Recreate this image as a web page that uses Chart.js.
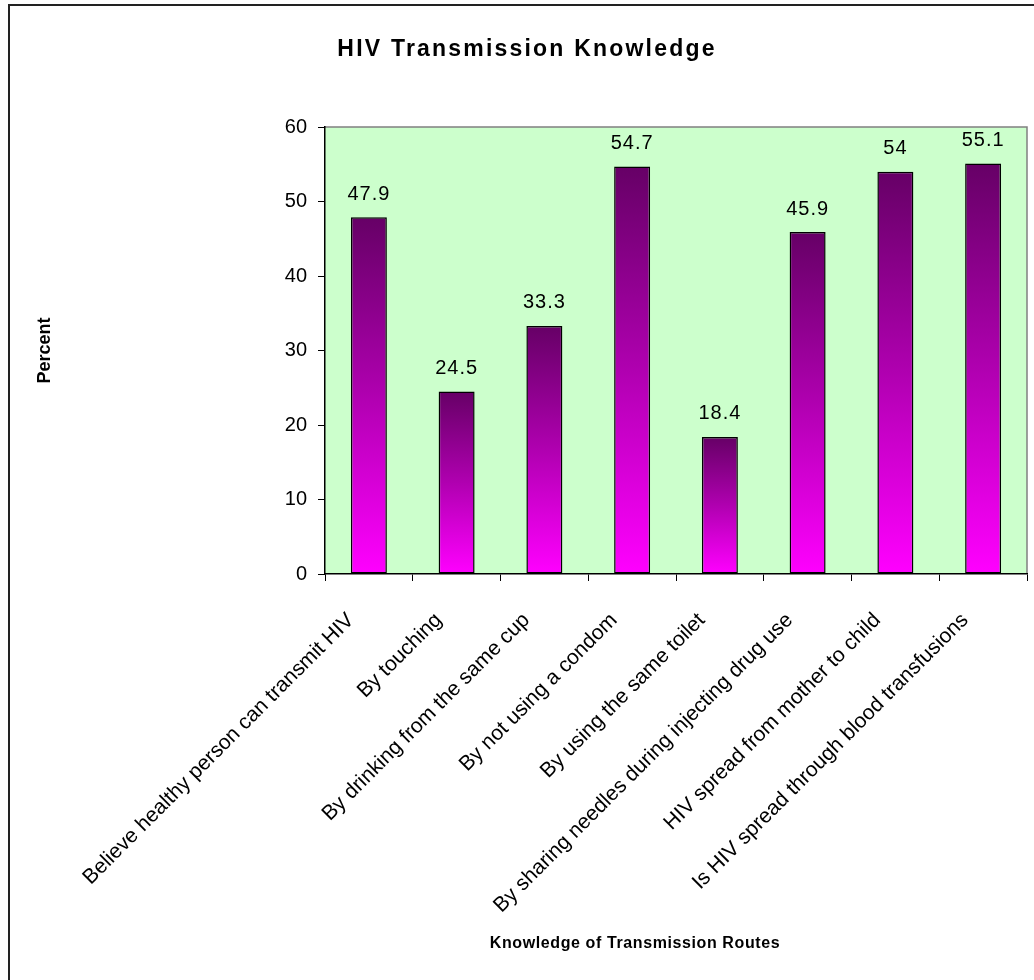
<!DOCTYPE html>
<html>
<head>
<meta charset="utf-8">
<script src="https://cdn.jsdelivr.net/npm/chart.js@4.4.1/dist/chart.umd.min.js"></script>
<style>
  html, body { margin: 0; padding: 0; background: #fff; }
  #wrap { width: 1034px; height: 980px; position: relative; }
</style>
</head>
<body>
<div id="wrap"><canvas id="hivChart"></canvas></div>
<script>
var categories = [
    'Believe healthy person can transmit HIV',
    'By touching',
    'By drinking from the same cup',
    'By not using a condom',
    'By using the same toilet',
    'By sharing needles during injecting drug use',
    'HIV spread from mother to child',
    'Is HIV spread through blood transfusions'
];
var percents = [47.9, 24.5, 33.3, 54.7, 18.4, 45.9, 54, 55.1];
var yTicks = [0, 10, 20, 30, 40, 50, 60];
var chartTitle = 'HIV Transmission Knowledge';
var xTitle = 'Knowledge of Transmission Routes';
var yTitle = 'Percent';

var FONT = '"Liberation Sans", Arial, sans-serif';

document.addEventListener('DOMContentLoaded', function () {
    // fondo verde, borde exterior y titulos
    var plotBg = {
        id: 'plotBg',
        beforeDraw: function (chart) {
            var c = chart.ctx, a = chart.chartArea;
            c.save();
            c.fillStyle = '#fff';
            c.fillRect(0, 0, chart.width, chart.height);
            c.strokeStyle = '#222';
            c.lineWidth = 2;
            c.strokeRect(9, 5, 1200, 1200);
            c.fillStyle = '#CCFFCC';
            c.fillRect(a.left, a.top, a.right - a.left, a.bottom - a.top);
            c.strokeStyle = '#808080';
            c.lineWidth = 1.5;
            c.beginPath();
            c.moveTo(a.left, a.top);
            c.lineTo(a.right, a.top);
            c.lineTo(a.right, a.bottom);
            c.stroke();
            c.restore();
        },
        afterDraw: function (chart) {
            var c = chart.ctx;
            c.save();
            c.fillStyle = '#000';
            c.textAlign = 'center';
            c.textBaseline = 'middle';
            c.font = 'bold 23px ' + FONT;
            c.letterSpacing = '2.2px';
            c.fillText(chartTitle, 527, 50);
            c.font = 'bold 16px ' + FONT;
            c.letterSpacing = '0.6px';
            c.fillText(xTitle, 635, 944);
            c.restore();
            c.letterSpacing = '0px';
        }
    };

    // etiquetas de valor encima de cada barra
    var valueLabels = {
        id: 'valueLabels',
        afterDatasetsDraw: function (chart) {
            var c = chart.ctx;
            var meta = chart.getDatasetMeta(0);
            c.save();
            c.font = '20px ' + FONT;
            c.letterSpacing = '1px';
            c.fillStyle = '#000';
            c.textAlign = 'center';
            c.textBaseline = 'bottom';
            meta.data.forEach(function (bar, i) {
                c.fillText(String(percents[i]), bar.x, bar.y - 13);
            });
            c.restore();
            c.letterSpacing = '0px';
        }
    };

    var ctx = document.getElementById('hivChart').getContext('2d');
    var chart = new Chart(ctx, {
        type: 'bar',
        data: {
            labels: categories,
            datasets: [{
                data: percents,
                backgroundColor: function (context) {
                    var ch = context.chart;
                    if (!ch.chartArea) return '#B000B0';
                    var y = ch.scales.y;
                    var top = y.getPixelForValue(percents[context.dataIndex]);
                    var base = y.getPixelForValue(0);
                    var g = ch.ctx.createLinearGradient(0, top, 0, base);
                    g.addColorStop(0, '#660066');
                    g.addColorStop(0.5, '#B000B0');
                    g.addColorStop(1, '#FF00FF');
                    return g;
                },
                borderColor: '#000',
                borderWidth: 1.5,
                borderSkipped: false,
                categoryPercentage: 1,
                barPercentage: 0.41
            }]
        },
        options: {
            responsive: true,
            maintainAspectRatio: false,
            animation: false,
            layout: { padding: { left: 34, right: 7, top: 127, bottom: 0 } },
            plugins: {
                legend: { display: false },
                tooltip: { enabled: false },
                title: { display: false }
            },
            scales: {
                x: {
                    grid: {
                        display: true,
                        drawOnChartArea: false,
                        drawTicks: true,
                        tickLength: 7,
                        color: '#000',
                        offset: true
                    },
                    border: { display: true, color: '#000', width: 1.5 },
                    ticks: {
                        autoSkip: false,
                        minRotation: 45,
                        maxRotation: 45,
                        padding: 27,
                        labelOffset: -18,
                        color: '#000',
                        font: { family: FONT, size: 21 }
                    },
                    afterFit: function (scale) { scale.height = 406; }
                },
                y: {
                    min: 0,
                    max: 60,
                    afterBuildTicks: function (scale) {
                        scale.ticks = yTicks.map(function (v) { return { value: v }; });
                    },
                    grid: {
                        display: true,
                        drawOnChartArea: false,
                        drawTicks: true,
                        tickLength: 7,
                        color: '#000'
                    },
                    border: { display: true, color: '#000', width: 1.5 },
                    ticks: {
                        padding: 11,
                        color: '#000',
                        font: { family: FONT, size: 20 }
                    },
                    title: {
                        display: true,
                        text: yTitle,
                        color: '#000',
                        font: { family: FONT, size: 18, weight: 'bold' },
                        padding: { top: 0, bottom: 0 }
                    },
                    afterFit: function (scale) { scale.width = 291; }
                }
            }
        },
        plugins: [plotBg, valueLabels]
    });
});
</script>
</body>
</html>
